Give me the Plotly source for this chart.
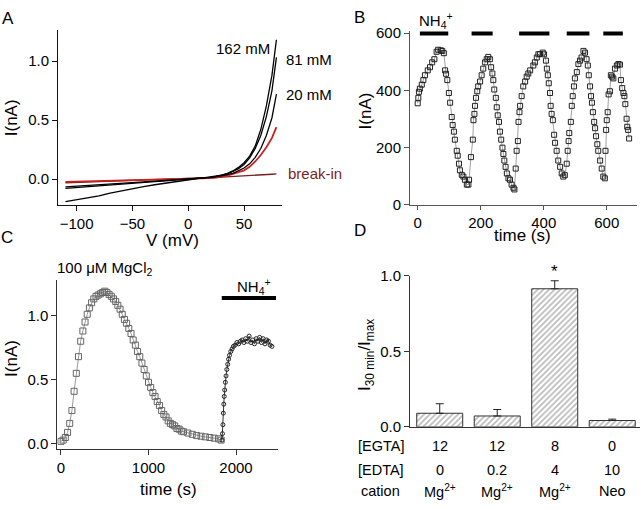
import plotly.graph_objects as go

W, H = 640, 509
FONT = "Arial, Liberation Sans, sans-serif"

# ---------------- Panel A data ----------------
V_A = [-110, -100, -90, -80, -70, -60, -50, -40, -30, -20, -10, 0, 10, 15, 20, 25,
       30, 35, 40, 45, 50, 55, 60, 65, 70, 75, 79]
I_162 = [-0.19, -0.175, -0.158, -0.14, -0.118, -0.098, -0.08, -0.063, -0.047, -0.032,
         -0.018, -0.005, 0.008, 0.013, 0.02, 0.027, 0.035, 0.05, 0.07, 0.10, 0.14,
         0.195, 0.28, 0.42, 0.62, 0.88, 1.18]
I_81 = [-0.078, -0.07, -0.062, -0.055, -0.048, -0.041, -0.034, -0.027, -0.02, -0.013,
        -0.007, 0.0, 0.006, 0.01, 0.016, 0.024, 0.032, 0.045, 0.065, 0.09, 0.125,
        0.18, 0.26, 0.37, 0.53, 0.75, 1.03]
I_20 = [-0.065, -0.058, -0.052, -0.046, -0.04, -0.034, -0.028, -0.022, -0.016, -0.011,
        -0.005, 0.001, 0.007, 0.01, 0.015, 0.021, 0.028, 0.038, 0.05, 0.07, 0.095,
        0.13, 0.185, 0.26, 0.37, 0.52, 0.72]
I_red = [-0.022, -0.02, -0.018, -0.016, -0.014, -0.011, -0.009, -0.006, -0.004, -0.002,
         0.0, 0.003, 0.006, 0.008, 0.01, 0.014, 0.02, 0.03, 0.045, 0.06, 0.075,
         0.105, 0.15, 0.205, 0.27, 0.35, 0.44]
I_break = [-0.03, -0.027, -0.024, -0.02, -0.017, -0.013, -0.01, -0.007, -0.004, -0.001,
           0.003, 0.006, 0.01, 0.012, 0.014, 0.016, 0.018, 0.02, 0.022, 0.025, 0.027,
           0.03, 0.033, 0.036, 0.039, 0.042, 0.045]

# ---------------- Panel B data ----------------
t_B = [0, 2, 4, 7, 13, 18, 23, 32, 39, 46, 53, 60, 65, 73, 78, 83,
       87, 90, 94, 99, 103, 108, 111, 115, 118, 124, 127, 131, 134, 140, 145, 150, 156, 161,
       163, 169, 175, 177, 180, 182, 185, 189, 192, 198, 203, 208, 214, 219, 224, 229,
       233, 237, 240, 243, 248, 251, 254, 258, 261, 265, 269, 272, 275, 279, 283, 288, 293, 298, 304, 307,
       311, 314, 318, 320, 323, 325, 330, 335, 341, 346, 351, 357, 367, 372, 378, 383, 388, 397, 401,
       407, 410, 413, 416, 420, 422, 425, 429, 433, 436, 441, 446, 452, 457, 462, 467,
       473, 476, 479, 481, 486, 489, 492, 496, 499, 505, 510, 515, 520, 526, 531,
       536, 540, 543, 547, 550, 553, 556, 560, 563, 566, 570, 573, 579, 584, 589, 594,
       596, 598, 600, 603, 606, 610, 613, 617, 621, 626, 632, 637, 642,
       645, 649, 653, 656, 659, 663, 665, 668, 671]
I_B = [355, 374, 395, 406, 420, 436, 453, 470, 481, 498, 509, 535, 542, 540, 538, 530,
       470, 458, 436, 391, 357, 307, 279, 256, 228, 189, 172, 144, 121, 105, 99, 88, 71, 71,
       88, 167, 228, 296, 318, 346, 374, 397, 414, 431, 453, 476, 498, 509, 517, 509,
       481, 459, 436, 403, 374, 341, 313, 290, 256, 228, 200, 178, 155, 133, 110, 93, 88, 71, 60, 54,
       127, 189, 223, 290, 324, 346, 380, 414, 431, 448, 459, 470, 487, 498, 515, 526, 527, 532, 526,
       504, 476, 453, 425, 391, 346, 318, 296, 245, 217, 189, 155, 133, 110, 99, 104,
       144, 189, 223, 251, 290, 346, 380, 414, 442, 464, 492, 504, 515, 538, 532,
       509, 487, 453, 414, 380, 357, 324, 290, 268, 240, 212, 189, 155, 127, 99, 93,
       189, 262, 296, 324, 386, 397, 453, 448, 442, 476, 487, 492, 490,
       436, 408, 391, 380, 352, 301, 273, 262, 232]
nh4_B_start = [7, 171, 322, 473, 589]
nh4_B_end = [97, 238, 418, 545, 651]
nh4_B_level = 600

# ---------------- Panel C data ----------------
t_C1 = [0, 25, 50, 75, 100, 125, 150, 175, 200, 225, 250, 275, 300, 325, 350, 375, 400,
        425, 450, 475, 500, 525, 550, 575, 600, 625, 650, 675, 700, 725, 750, 775, 800,
        825, 850, 875, 900, 925, 950, 975, 1000, 1025, 1050, 1075, 1100, 1125, 1150,
        1175, 1200, 1225, 1250, 1275, 1300, 1325, 1350, 1375, 1400, 1450, 1500, 1550,
        1600, 1650, 1700, 1750, 1800, 1830]
I_C1 = [0.02, 0.03, 0.05, 0.09, 0.16, 0.26, 0.41, 0.55, 0.68, 0.80, 0.88, 0.95, 1.01,
        1.06, 1.10, 1.13, 1.15, 1.16, 1.17, 1.18, 1.19, 1.18, 1.165, 1.15, 1.13, 1.11,
        1.08, 1.05, 1.01, 0.97, 0.94, 0.90, 0.86, 0.81, 0.77, 0.72, 0.68, 0.63, 0.58,
        0.53, 0.48, 0.44, 0.40, 0.37, 0.33, 0.30, 0.26, 0.23, 0.21, 0.18, 0.16, 0.15,
        0.14, 0.12, 0.115, 0.10, 0.095, 0.085, 0.075, 0.065, 0.06, 0.055, 0.05, 0.045,
        0.04, 0.03]
t_C2 = [1840, 1845, 1850, 1855, 1860, 1865, 1870, 1878, 1886, 1895, 1905, 1915, 1925,
        1940, 1955, 1970, 1990, 2010, 2030, 2050, 2070, 2090, 2110, 2130, 2150, 2170,
        2190, 2210, 2230, 2250, 2270, 2290, 2310, 2330, 2350, 2370, 2390, 2410]
I_C2 = [0.03, 0.08, 0.15, 0.24, 0.31, 0.37, 0.42, 0.48, 0.53, 0.58, 0.62, 0.66, 0.69,
        0.72, 0.74, 0.76, 0.77, 0.79, 0.78, 0.80, 0.81, 0.79, 0.82, 0.80, 0.84, 0.79,
        0.81, 0.78, 0.82, 0.80, 0.83, 0.79, 0.82, 0.78, 0.81, 0.80, 0.77, 0.76]
nh4_C_start = 1837
nh4_C_end = 2457
nh4_C_level = 1.137

# ---------------- Panel D data ----------------
D_ratio = [0.09, 0.072, 0.914, 0.042]
D_err = [0.063, 0.043, 0.053, 0.009]
D_egta = ["12", "12", "8", "0"]
D_edta = ["0", "0.2", "4", "10"]
D_cation = ["Mg<sup>2+</sup>", "Mg<sup>2+</sup>", "Mg<sup>2+</sup>", "Neo"]
D_star = ["", "", "*", ""]

fig = go.Figure()

# Panel A traces
for ys, col, wd in [(I_break, "#7a1f1f", 1.3), (I_red, "#cc2020", 1.8),
                    (I_20, "black", 1.3), (I_81, "black", 1.3), (I_162, "black", 1.3)]:
    fig.add_trace(go.Scatter(x=V_A, y=ys, mode="lines", line=dict(color=col, width=wd),
                             xaxis="x", yaxis="y", showlegend=False, hoverinfo="skip"))

# Panel B traces
fig.add_trace(go.Scatter(x=t_B, y=I_B, mode="lines+markers",
                         line=dict(color="#888", width=0.8),
                         marker=dict(symbol="square-open", size=5, color="#222",
                                     line=dict(width=1)),
                         xaxis="x2", yaxis="y2", showlegend=False, hoverinfo="skip"))
bx, by = [], []
for s, e in zip(nh4_B_start, nh4_B_end):
    bx += [s, e, None]
    by += [nh4_B_level, nh4_B_level, None]
fig.add_trace(go.Scatter(x=bx, y=by, mode="lines", line=dict(color="black", width=4.5),
                         xaxis="x2", yaxis="y2", showlegend=False, hoverinfo="skip"))

# Panel C traces
fig.add_trace(go.Scatter(x=t_C1, y=I_C1, mode="lines+markers",
                         line=dict(color="#999", width=1),
                         marker=dict(symbol="square-open", size=6, color="#666",
                                     line=dict(width=1)),
                         xaxis="x3", yaxis="y3", showlegend=False, hoverinfo="skip"))
fig.add_trace(go.Scatter(x=t_C2, y=I_C2, mode="lines+markers",
                         line=dict(color="#333", width=1),
                         marker=dict(symbol="circle-open", size=4, color="#222",
                                     line=dict(width=1)),
                         xaxis="x3", yaxis="y3", showlegend=False, hoverinfo="skip"))
fig.add_trace(go.Scatter(x=[nh4_C_start, nh4_C_end], y=[nh4_C_level, nh4_C_level],
                         mode="lines", line=dict(color="black", width=4),
                         xaxis="x3", yaxis="y3", showlegend=False, hoverinfo="skip"))

# Panel D traces
xD = list(range(len(D_ratio)))
fig.add_trace(go.Bar(x=xD, y=D_ratio, width=0.8,
                     marker=dict(color="white", line=dict(color="#333", width=1),
                                 pattern=dict(shape="/", fgcolor="#777", bgcolor="white",
                                              size=4, solidity=0.45)),
                     error_y=dict(type="data", array=D_err,
                                  arrayminus=[0] * len(D_err), symmetric=False,
                                  color="#222", thickness=1, width=4),
                     xaxis="x4", yaxis="y4", showlegend=False, hoverinfo="skip"))

def px_x(p):
    return p / W

def px_y(p):
    return 1 - p / H

axis_common = dict(showgrid=False, zeroline=False, showline=True, ticks="outside",
                   tickwidth=1, linewidth=1,
                   tickfont=dict(family=FONT, size=15, color="black"))

fig.update_layout(
    width=W, height=H, margin=dict(l=0, r=0, t=0, b=0),
    paper_bgcolor="white", plot_bgcolor="white",
    font=dict(family=FONT, color="black"),
    xaxis=dict(domain=[px_x(58), px_x(282)], anchor="y", range=[-116.7, 84], ticklen=5,
               tickvals=[-100, -50, 0, 50], linecolor="#111", tickcolor="#111", **axis_common),
    yaxis=dict(domain=[px_y(203), px_y(22)], anchor="x", range=[-0.22, 1.26], ticklen=5,
               tickvals=[0, 0.5, 1.0], ticktext=["0.0", "0.5", "1.0"],
               linecolor="#111", tickcolor="#111", **axis_common),
    xaxis2=dict(domain=[px_x(410), px_x(637)], anchor="y2", range=[-24.4, 696], ticklen=4,
                tickvals=[0, 200, 400, 600], linecolor="#555", tickcolor="#555", **axis_common),
    yaxis2=dict(domain=[px_y(202.7), px_y(23.2)], anchor="x2", range=[0, 606], ticklen=5,
                tickvals=[0, 200, 400, 600], linecolor="#555", tickcolor="#555", **axis_common),
    xaxis3=dict(domain=[px_x(57.3), px_x(278.3)], anchor="y3", range=[-42, 2483], ticklen=5,
                tickvals=[0, 1000, 2000], linecolor="#333", tickcolor="#333", **axis_common),
    yaxis3=dict(domain=[px_y(455), px_y(280)], anchor="x3", range=[-0.038, 1.28], ticklen=5,
                tickvals=[0, 0.5, 1.0], ticktext=["0.0", "0.5", "1.0"],
                linecolor="#333", tickcolor="#333", **axis_common),
    xaxis4=dict(domain=[px_x(410), 1.0], anchor="y4", range=[-0.517, 3.483],
                showgrid=False, zeroline=False, showline=True, linewidth=1, linecolor="#333",
                ticks="", showticklabels=False),
    yaxis4=dict(domain=[px_y(432.3), px_y(276)], anchor="x4", range=[0, 1.0], ticklen=5,
                tickvals=[0, 0.5, 1.0], ticktext=["0.0", "0.5", "1.0"],
                linecolor="#333", tickcolor="#333", **axis_common),
)

ann = []

def txt(x, y, s, size=17, xanchor="center", angle=0, color="black"):
    ann.append(dict(x=px_x(x), y=px_y(y), xref="paper", yref="paper", text=s,
                    showarrow=False, xanchor=xanchor, yanchor="middle", textangle=angle,
                    font=dict(family=FONT, size=size, color=color)))

# panel letters
txt(8, 10, "A", 17)
txt(359, 9, "B", 17)
txt(7, 236, "C", 17)
txt(360, 229, "D", 17)

# axis titles
txt(11, 113, "I(nA)", 17, angle=-90)
txt(172, 239, "V (mV)", 17)
txt(365, 106, "I(nA)", 17, angle=-90)
txt(522, 234, "time (s)", 17)
txt(12, 362, "I(nA)", 17, angle=-90)
txt(168, 497, "time (s)", 17)
txt(366, 358, "I<sub>30 min</sub>/I<sub>max</sub>", 17, angle=-90)

# panel A labels
txt(243, 41, "162 mM", 15)
txt(284, 52, "81 mM", 15, xanchor="left")
txt(284, 88, "20 mM", 15, xanchor="left")
txt(286, 170, "break-in", 15, xanchor="left", color="#7a1f1f")

# panel B / C labels
txt(436, 12, "NH<sub>4</sub><sup>+</sup>", 15)
txt(105, 268, "100 \u03bcM MgCl<sub>2</sub>", 15)
txt(254, 287, "NH<sub>4</sub><sup>+</sup>", 15)

# panel D table
txt(381, 452, "[EGTA]", 14.5)
txt(381, 477, "[EDTA]", 14.5)
txt(380, 499, "cation", 14.5)
for i in xD:
    for s, yv in [(D_egta[i], 452), (D_edta[i], 477), (D_cation[i], 499)]:
        ann.append(dict(x=i, y=px_y(yv), xref="x4", yref="paper", text=s, showarrow=False,
                        xanchor="center", yanchor="middle",
                        font=dict(family=FONT, size=14.5, color="black")))
    if D_star[i]:
        ann.append(dict(x=i, y=D_ratio[i] + D_err[i], xref="x4", yref="y4", text=D_star[i],
                        showarrow=False, xanchor="center", yanchor="bottom", yshift=-2,
                        font=dict(family=FONT, size=17, color="black")))

fig.update_layout(annotations=ann)
fig.write_html("out.html", config={"displayModeBar": False},
               post_script="document.body.style.margin='0';document.body.style.padding='0';")
